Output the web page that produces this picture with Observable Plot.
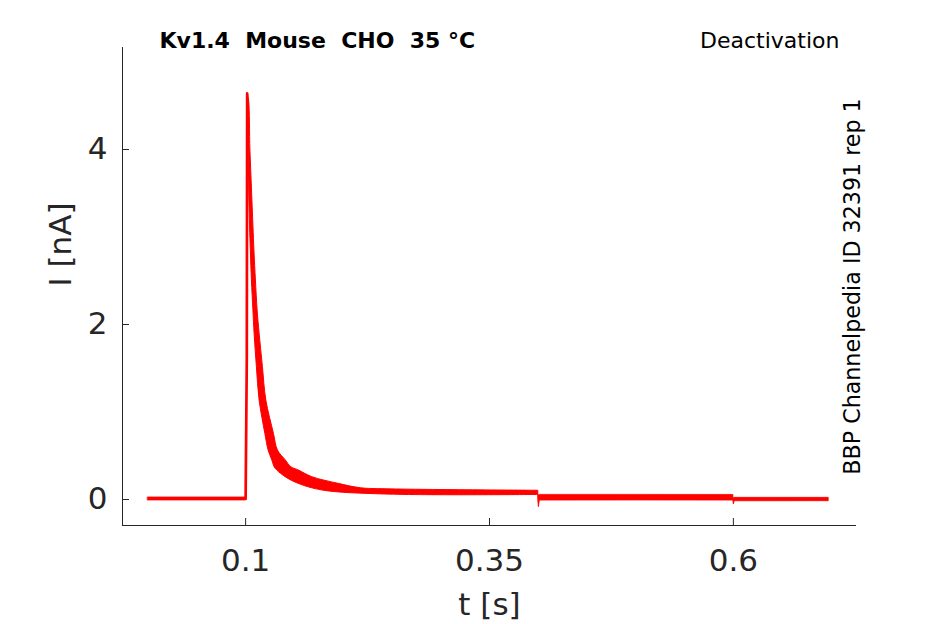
<!DOCTYPE html>
<html>
<head>
<meta charset="utf-8">
<script src="https://cdn.jsdelivr.net/npm/d3@7"></script>
<script src="https://cdn.jsdelivr.net/npm/@observablehq/plot@0.6"></script>
<style>
  html, body { margin: 0; padding: 0; background: #fff; }
  svg text { white-space: pre; }
</style>
</head>
<body>
<div id="chart"></div>
<script>
// Decay after the peak: envelope of the overlaid sweeps.
// Left/lower edge (earliest sweep) and right/upper edge (latest sweep), paired by index.
const decayLoT = [0.1016, 0.10236, 0.10308, 0.10390, 0.10533, 0.10646, 0.10800, 0.10923, 0.11159, 0.11436, 0.12021, 0.12359, 0.12738, 0.12974, 0.13251, 0.14103, 0.15436, 0.17897, 0.24359, 0.4000];
const decayLoI = [4.64, 4.560, 3.989, 3.417, 2.846, 2.503, 2.160, 1.894, 1.512, 1.131, 0.751, 0.560, 0.446, 0.369, 0.331, 0.255, 0.179, 0.103, 0.057, 0.052];
const decayHiT = [0.1022, 0.10359, 0.10492, 0.10697, 0.10903, 0.11056, 0.11231, 0.11436, 0.11774, 0.12123, 0.12903, 0.13313, 0.14123, 0.14687, 0.15467, 0.16841, 0.19538, 0.21795, 0.24359, 0.4000];
const decayHiI = [4.64, 4.560, 3.989, 3.417, 2.846, 2.503, 2.160, 1.894, 1.512, 1.131, 0.751, 0.560, 0.446, 0.369, 0.331, 0.255, 0.179, 0.129, 0.117, 0.100];

// Step onset (rising edge)
const riseT = [0.1000, 0.1012, 0.1016];
const riseI = [0.006, 1.60, 4.64];

// Flat stretches: holding level before the step, after 0.4 s and after 0.6 s
const flatSeg = ["pre", "pre", "mid", "mid", "mid", "mid", "mid", "post", "post", "post", "post"];
const flatT   = [0, 0.1000, 0.4000, 0.4006, 0.4016, 0.5000, 0.6000, 0.6000, 0.6005, 0.6014, 0.6977];
const flatHi  = [0.023, 0.023, 0.054, 0.050, 0.053, 0.053, 0.052, 0.019, 0.015, 0.019, 0.019];
const flatLo  = [-0.011, -0.011, -0.011, -0.088, -0.012, -0.011, -0.012, -0.019, -0.057, -0.020, -0.019];

const xTicks = [0.1, 0.35, 0.6];
const yTicks = [0, 2, 4];
const xDomain = [-0.0262, 0.7262];
const yDomain = [-0.297, 5.166];

const titleText = "Kv1.4  Mouse  CHO  35 °C";
const protocolText = "Deactivation";
const sourceText = "BBP Channelpedia ID 32391 rep 1";
const xLabel = "t [s]";
const yLabel = "I [nA]";

const decay = decayLoT.map((t, i) => ({tLo: t, iLo: decayLoI[i], tHi: decayHiT[i], iHi: decayHiI[i]}));
const rise = riseT.map((t, i) => ({t, i: riseI[i]}));
const flat = flatT.map((t, i) => ({seg: flatSeg[i], t, hi: flatHi[i], lo: flatLo[i]}));

const axisColor = "#262626";
const traceColor = "#ff0000";

const chart = Plot.plot({
  width: 945,
  height: 624,
  marginLeft: 122,
  marginRight: 89,
  marginTop: 47,
  marginBottom: 99,
  style: {fontFamily: "DejaVu Sans", color: axisColor, background: "#fff", overflow: "visible"},
  x: {domain: xDomain},
  y: {domain: yDomain},
  marks: [
    Plot.area(decay, {x1: "tLo", y1: "iLo", x2: "tHi", y2: "iHi", fill: traceColor, stroke: traceColor, strokeWidth: 1, curve: "catmull-rom"}),
    Plot.areaY(flat, {x: "t", y1: "lo", y2: "hi", z: "seg", fill: traceColor, stroke: traceColor, strokeWidth: 0.8, curve: "linear"}),
    Plot.line(rise, {x: "t", y: "i", stroke: traceColor, strokeWidth: 2.7}),
    Plot.ruleX([xDomain[0]], {stroke: axisColor, strokeWidth: 1}),
    Plot.ruleY([yDomain[0]], {stroke: axisColor, strokeWidth: 1}),
    Plot.axisX({ticks: xTicks, tickSize: -7, tickFormat: () => "", label: null, stroke: axisColor}),
    Plot.axisY({ticks: yTicks, tickSize: -7, tickFormat: () => "", label: null, stroke: axisColor}),
    Plot.axisX({ticks: xTicks, tickSize: 0, tickPadding: 23, fontSize: 31, tickFormat: d => String(d), label: null, fill: axisColor}),
    Plot.axisY({ticks: yTicks, tickSize: 0, tickPadding: 15, fontSize: 31, tickFormat: d => String(d), label: null, fill: axisColor}),
    Plot.text([xLabel], {frameAnchor: "bottom", dy: 80, text: d => d, fontSize: 31, lineAnchor: "middle", fill: axisColor}),
    Plot.text([yLabel], {frameAnchor: "left", dx: -61, text: d => d, fontSize: 31, rotate: -90, lineAnchor: "middle", fill: axisColor}),
    Plot.text([titleText], {frameAnchor: "top-left", dx: 37, dy: 0, text: d => d, fontSize: 22, fontWeight: "bold", textAnchor: "start", lineAnchor: "bottom", fill: "#000"}),
    Plot.text([protocolText], {frameAnchor: "top-right", dx: -17, dy: 0, text: d => d, fontSize: 22, textAnchor: "end", lineAnchor: "bottom", fill: "#000"}),
    Plot.text([sourceText], {frameAnchor: "right", dx: 3.5, text: d => d, fontSize: 22.2, rotate: -90, textAnchor: "middle", lineAnchor: "bottom", fill: "#000"})
  ]
});

document.getElementById("chart").appendChild(chart);
</script>
</body>
</html>
